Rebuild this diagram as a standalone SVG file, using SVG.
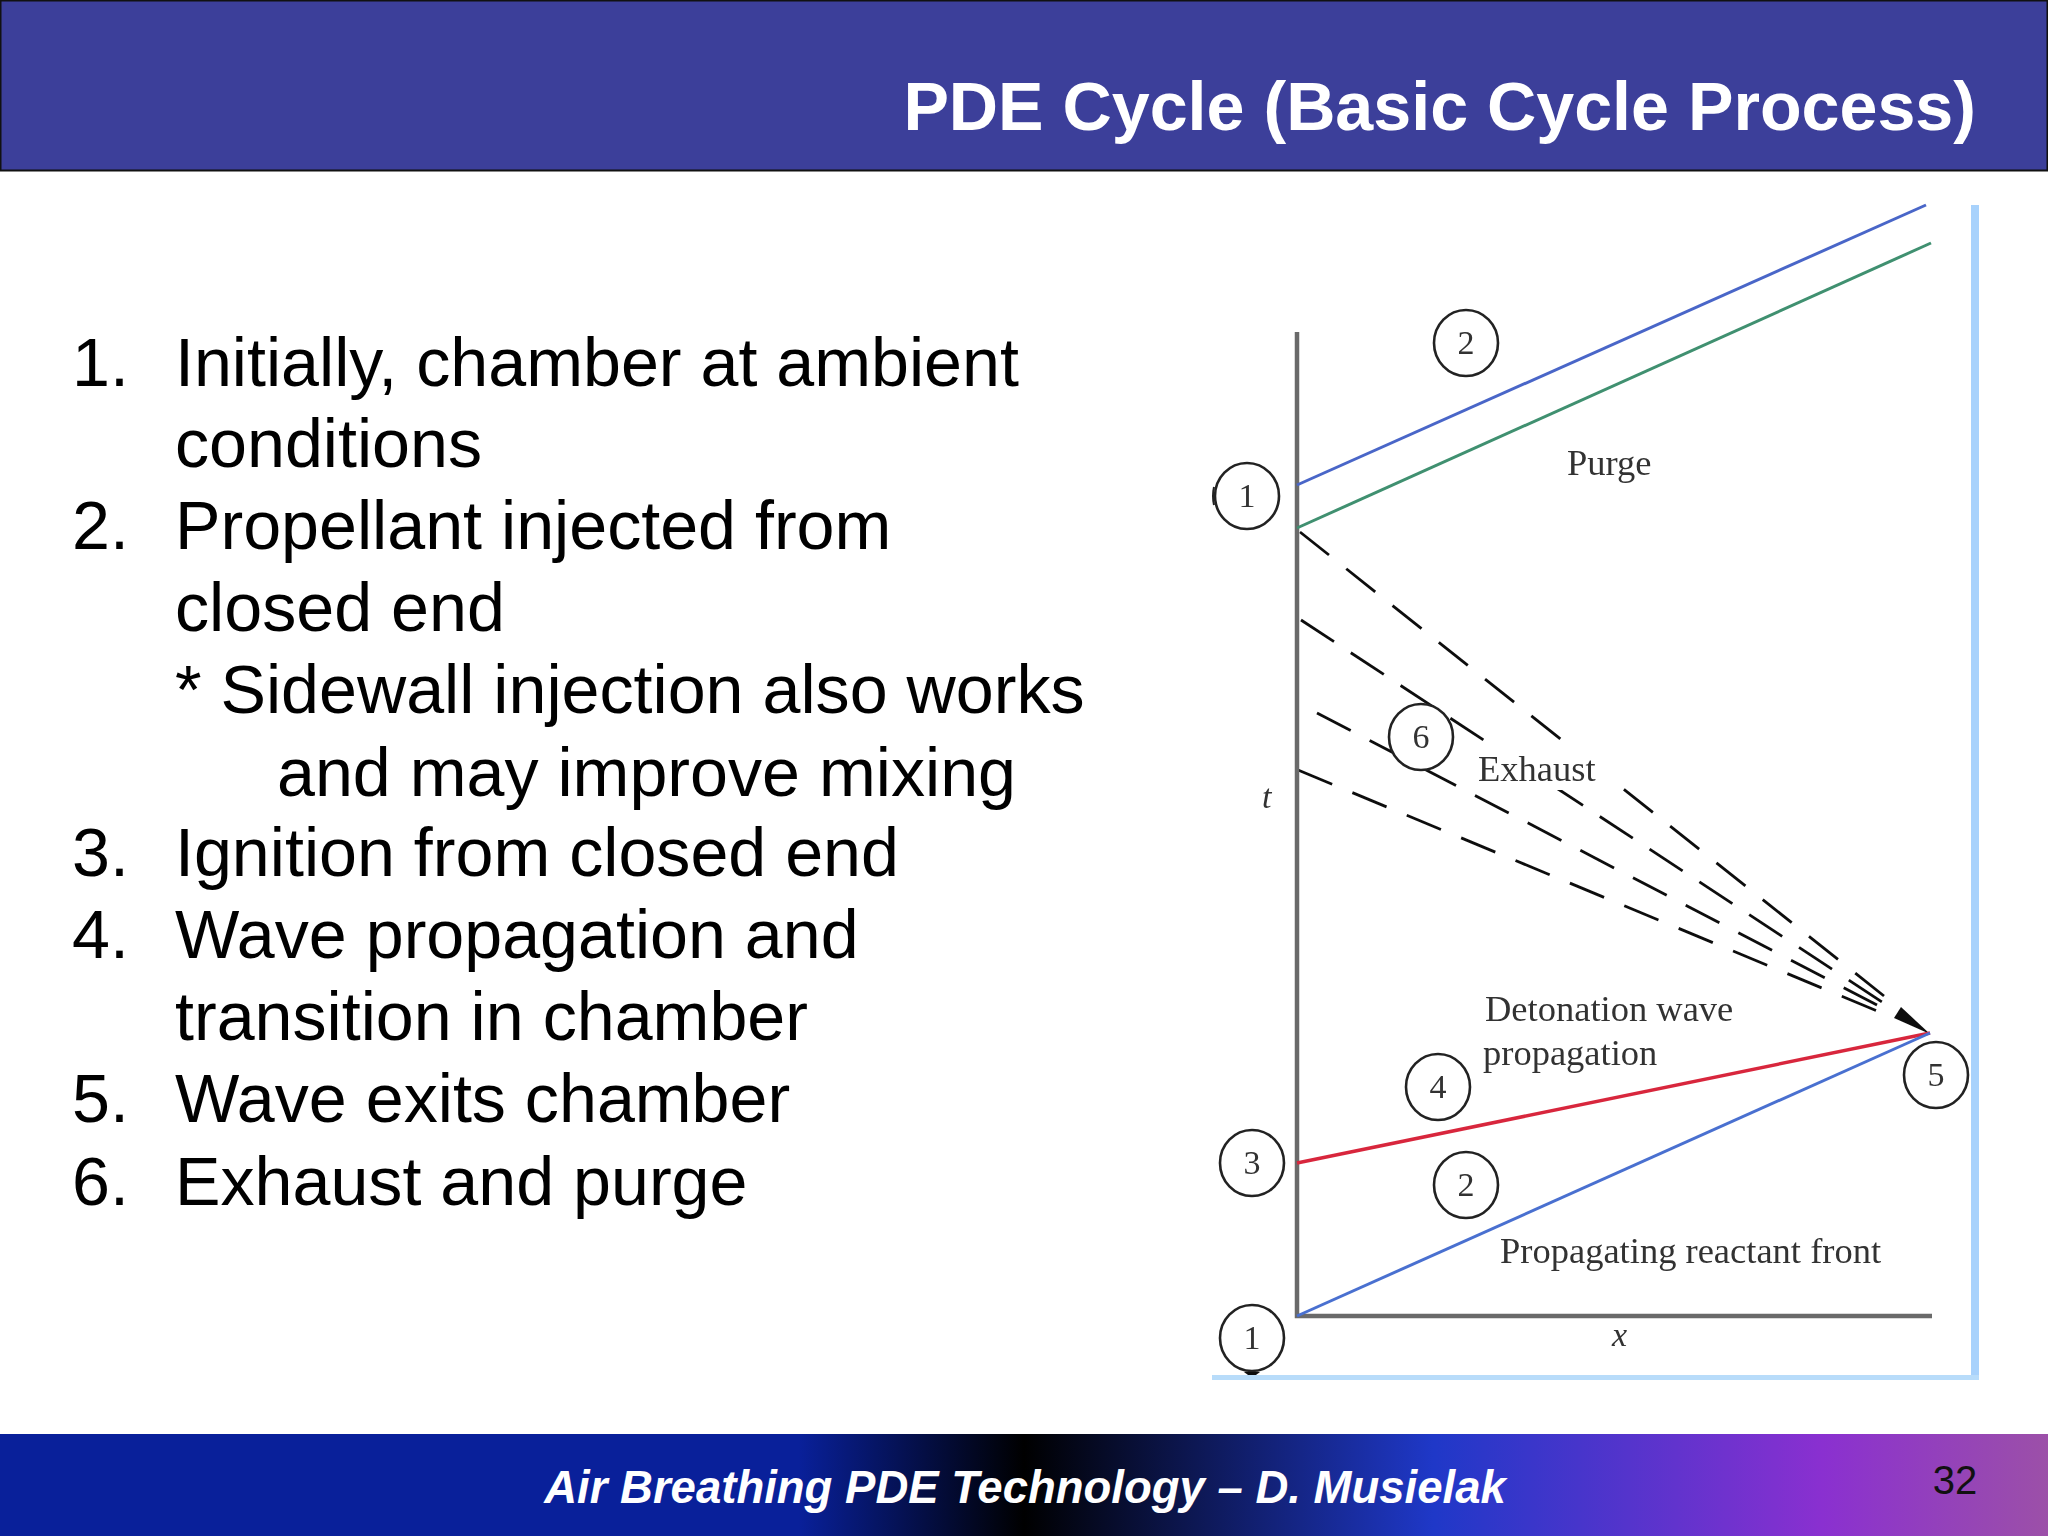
<svg xmlns="http://www.w3.org/2000/svg" width="2048" height="1536" viewBox="0 0 2048 1536">
<defs>
<linearGradient id="fg" x1="0" y1="0" x2="1" y2="0">
<stop offset="0" stop-color="#09209a"/><stop offset="0.39" stop-color="#09209a"/><stop offset="0.5" stop-color="#000"/><stop offset="0.7" stop-color="#1f38c8"/><stop offset="0.89" stop-color="#8a30d0"/><stop offset="1" stop-color="#9c50a8"/>
</linearGradient>
<filter id="soft"><feGaussianBlur stdDeviation="0.7"/></filter>
<filter id="softer"><feGaussianBlur stdDeviation="0.45"/></filter>
</defs>
<style>
.body{font-family:"Liberation Sans",Arial,sans-serif;font-size:68.2px;fill:#000}
.fig{font-family:"Liberation Serif","Times New Roman",serif;font-size:36.5px;fill:#333}
.num{font-family:"Liberation Serif","Times New Roman",serif;font-size:34px;fill:#333;text-anchor:middle}
.ring{fill:#fff;stroke:#222;stroke-width:2.6}
.dash{fill:none;stroke:#111;stroke-width:2.8}
</style>
<rect width="2048" height="1536" fill="#fff"/>
<g id="header"><rect x="0.5" y="0.5" width="2047" height="170" fill="#3c3f9a" stroke="#111" stroke-width="2"/>
<text x="1976" y="130" text-anchor="end" font-family="Liberation Sans" font-weight="bold" font-size="68.2" fill="#fff">PDE Cycle (Basic Cycle Process)</text></g>
<g id="footer"><rect x="0" y="1434" width="2048" height="102" fill="url(#fg)"/>
<text x="1025" y="1503" text-anchor="middle" font-family="Liberation Sans" font-weight="bold" font-style="italic" font-size="45.5" fill="#fff">Air Breathing PDE Technology – D. Musielak</text>
<text x="1955" y="1494" text-anchor="middle" font-family="Liberation Sans" font-size="40" fill="#111">32</text></g>
<g id="list" class="body">
<text x="72" y="386">1.</text><text x="175" y="386">Initially, chamber at ambient</text>
<text x="175" y="467">conditions</text>
<text x="72" y="549">2.</text><text x="175" y="549">Propellant injected from</text>
<text x="175" y="631">closed end</text>
<text x="175" y="713">* Sidewall injection also works</text>
<text x="277" y="796">and may improve mixing</text>
<text x="72" y="876">3.</text><text x="175" y="876">Ignition from closed end</text>
<text x="72" y="958">4.</text><text x="175" y="958">Wave propagation and</text>
<text x="175" y="1040">transition in chamber</text>
<text x="72" y="1122">5.</text><text x="175" y="1122">Wave exits chamber</text>
<text x="72" y="1205">6.</text><text x="175" y="1205">Exhaust and purge</text>
</g>
<g id="connectors" filter="url(#soft)">
<path class="dash" d="M1300 532L1884 996" stroke-dasharray="37 22.1"/>
<path class="dash" d="M1301 620L1882 1002" stroke-dasharray="39.5 20.1"/>
<path class="dash" d="M1317 713L1877 1005" stroke-dasharray="38 21.4"/>
<path class="dash" d="M1298 770L1876 1010.5" stroke-dasharray="37 21.9"/>
<rect x="1478" y="745" width="136" height="45" fill="#fff"/>
<path d="M1901 1007L1894 1018L1930 1034Z" fill="#111"/>
<path d="M1297 332V1316H1932" fill="none" stroke="#6a6a6a" stroke-width="4.5"/>
<path d="M1297 485L1926 205" stroke="#4a66c8" stroke-width="3"/>
<path d="M1297 528L1931 243" stroke="#3f9070" stroke-width="3"/>
<path d="M1297 1163L1930 1033" stroke="#d8283c" stroke-width="3.5"/>
<path d="M1297 1316L1930 1033" stroke="#4a70d0" stroke-width="3"/>
</g>
<g id="frame"><rect x="1971" y="205" width="8" height="1175" fill="#a8d2fc"/><rect x="1212" y="1375" width="767" height="5" fill="#b8dcfa"/></g>
<g id="nodes" filter="url(#softer)">
<g id="n1"><ellipse class="ring" cx="1247" cy="496" rx="32" ry="33"/><path d="M1214 487Q1212 496 1214 505" fill="none" stroke="#222" stroke-width="2"/><text class="num" x="1247" y="507">1</text></g>
<g id="n2a"><ellipse class="ring" cx="1466" cy="343" rx="32" ry="33"/><text class="num" x="1466" y="354">2</text></g>
<g id="n6"><ellipse class="ring" cx="1421" cy="737" rx="32" ry="33"/><text class="num" x="1421" y="748">6</text></g>
<g id="n4"><ellipse class="ring" cx="1438" cy="1087" rx="32" ry="33"/><text class="num" x="1438" y="1098">4</text></g>
<g id="n3"><ellipse class="ring" cx="1252" cy="1163" rx="32" ry="33"/><text class="num" x="1252" y="1174">3</text></g>
<g id="n2b"><ellipse class="ring" cx="1466" cy="1185" rx="32" ry="33"/><text class="num" x="1466" y="1196">2</text></g>
<g id="n5"><ellipse class="ring" cx="1936" cy="1075" rx="32" ry="33"/><text class="num" x="1936" y="1086">5</text></g>
<g id="n1b"><ellipse class="ring" cx="1252" cy="1338" rx="32" ry="33"/><path d="M1244 1372H1260L1256 1375H1248Z" fill="#111"/><text class="num" x="1252" y="1349">1</text></g>
</g>
<g id="labels" class="fig" filter="url(#softer)">
<text x="1567" y="475">Purge</text>
<text x="1478" y="781">Exhaust</text>
<text x="1485" y="1021">Detonation wave</text>
<text x="1483" y="1065">propagation</text>
<text x="1500" y="1263">Propagating reactant front</text>
<text x="1262" y="808" font-style="italic" font-size="34">t</text>
<text x="1612" y="1346" font-style="italic" font-size="34">x</text>
</g>
</svg>
